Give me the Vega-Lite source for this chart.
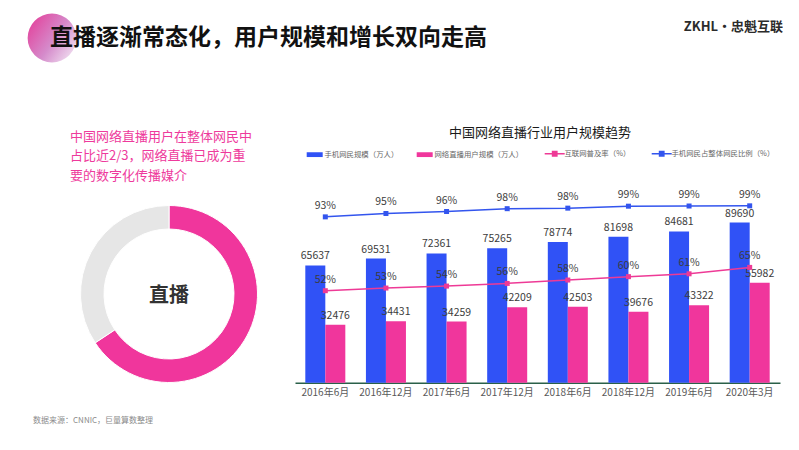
{
  "$schema": "https://vega.github.io/schema/vega-lite/v6.json",
  "background": "white",
  "padding": 0,
  "bounds": "flush",
  "columns": 3,
  "spacing": {"row": 106.7, "column": 0},
  "resolve": {"scale": {"color": "independent"}, "legend": {"color": "independent"}},
  "config": {"view": {"stroke": null}, "font": "Noto Sans CJK SC"},
  "datasets": {
    "trend": [
      {"period": "2016年6月", "series": "手机网民规模（万人）", "value": 65637},
      {"period": "2016年12月", "series": "手机网民规模（万人）", "value": 69531},
      {"period": "2017年6月", "series": "手机网民规模（万人）", "value": 72361},
      {"period": "2017年12月", "series": "手机网民规模（万人）", "value": 75265},
      {"period": "2018年6月", "series": "手机网民规模（万人）", "value": 78774},
      {"period": "2018年12月", "series": "手机网民规模（万人）", "value": 81698},
      {"period": "2019年6月", "series": "手机网民规模（万人）", "value": 84681},
      {"period": "2020年3月", "series": "手机网民规模（万人）", "value": 89690},
      {"period": "2016年6月", "series": "网络直播用户规模（万人）", "value": 32476},
      {"period": "2016年12月", "series": "网络直播用户规模（万人）", "value": 34431},
      {"period": "2017年6月", "series": "网络直播用户规模（万人）", "value": 34259},
      {"period": "2017年12月", "series": "网络直播用户规模（万人）", "value": 42209},
      {"period": "2018年6月", "series": "网络直播用户规模（万人）", "value": 42503},
      {"period": "2018年12月", "series": "网络直播用户规模（万人）", "value": 39676},
      {"period": "2019年6月", "series": "网络直播用户规模（万人）", "value": 43322},
      {"period": "2020年3月", "series": "网络直播用户规模（万人）", "value": 55982},
      {"period": "2016年6月", "series": "互联网普及率（%）", "value": 0.517},
      {"period": "2016年12月", "series": "互联网普及率（%）", "value": 0.532},
      {"period": "2017年6月", "series": "互联网普及率（%）", "value": 0.543},
      {"period": "2017年12月", "series": "互联网普及率（%）", "value": 0.558},
      {"period": "2018年6月", "series": "互联网普及率（%）", "value": 0.577},
      {"period": "2018年12月", "series": "互联网普及率（%）", "value": 0.596},
      {"period": "2019年6月", "series": "互联网普及率（%）", "value": 0.612},
      {"period": "2020年3月", "series": "互联网普及率（%）", "value": 0.648},
      {"period": "2016年6月", "series": "手机网民占整体网民比例（%）", "value": 0.932},
      {"period": "2016年12月", "series": "手机网民占整体网民比例（%）", "value": 0.951},
      {"period": "2017年6月", "series": "手机网民占整体网民比例（%）", "value": 0.962},
      {"period": "2017年12月", "series": "手机网民占整体网民比例（%）", "value": 0.978},
      {"period": "2018年6月", "series": "手机网民占整体网民比例（%）", "value": 0.981},
      {"period": "2018年12月", "series": "手机网民占整体网民比例（%）", "value": 0.992},
      {"period": "2019年6月", "series": "手机网民占整体网民比例（%）", "value": 0.993},
      {"period": "2020年3月", "series": "手机网民占整体网民比例（%）", "value": 0.994}
    ]
  },
  "concat": [
    {
      "width": 43,
      "height": 10,
      "data": {"values": []},
      "mark": "point",
      "encoding": {},
      "title": {
        "text": "数据来源：CNNIC，巨量算数整理",
        "orient": "bottom", "frame": "group", "anchor": "start",
        "offset": 407, "dx": 33,
        "fontSize": 8, "fontWeight": "normal", "color": "#8c8c8c"
      }
    },
    {
      "width": 18,
      "height": 76,
      "data": {"values": [{"k": 1}]},
      "mark": {
        "type": "point",
        "shape": "circle",
        "filled": true,
        "opacity": 1,
        "size": 2376,
        "color": {
          "gradient": "linear",
          "x1": 0, "y1": 0.25, "x2": 1, "y2": 0.95,
          "stops": [
            {"offset": 0, "color": "#e2479f"},
            {"offset": 0.5, "color": "#d58bcb"},
            {"offset": 1, "color": "#f5edf7"}
          ]
        }
      },
      "encoding": {}
    },
    {
      "width": 485,
      "height": 10,
      "data": {"values": []},
      "mark": "point",
      "encoding": {},
      "title": {
        "text": "ZKHL•忠魁互联",
        "orient": "bottom", "frame": "group", "anchor": "end",
        "offset": 10.5, "dx": 3,
        "fontSize": 13, "fontWeight": "bold", "color": "#2b2b2b"
      }
    },
    {
      "width": 43,
      "height": 200,
      "data": {"values": []},
      "mark": "point",
      "encoding": {},
      "title": {
        "text": "直播逐渐常态化，用户规模和增长双向走高",
        "orient": "top", "frame": "group", "anchor": "start",
        "offset": 133.2, "dx": 50,
        "fontSize": 23, "fontWeight": "bold", "color": "#111111"
      }
    },
    {
      "width": 252,
      "height": 222.6,
      "title": {
        "text": ["中国网络直播用户在整体网民中", "占比近2/3，网络直播已成为重", "要的数字化传播媒介"],
        "orient": "top", "frame": "group", "anchor": "start",
        "offset": 0, "dx": 27,
        "lineHeight": 19.5,
        "fontSize": 13, "fontWeight": "normal", "color": "#ee3a9c"
      },
      "layer": [
        {
          "data": {"values": [{"part": "直播", "share": 65.7}, {"part": "其他", "share": 34.3}]},
          "mark": {"type": "arc", "outerRadius": 88.5, "innerRadius": 65, "stroke": "#ffffff", "strokeWidth": 1},
          "encoding": {
            "theta": {"field": "share", "type": "quantitative"},
            "order": {"field": "share", "sort": "descending"},
            "color": {"field": "part", "type": "nominal", "legend": null,
              "scale": {"domain": ["直播", "其他"], "range": ["#f0369c", "#e6e6e6"]}}
          }
        },
        {
          "data": {"values": [{"label": "直播"}]},
          "mark": {"type": "text", "fontSize": 20, "fontWeight": "bold", "color": "#333333", "baseline": "middle", "dy": 2},
          "encoding": {"text": {"field": "label", "type": "nominal"}}
        }
      ]
    },
    {
      "width": 485,
      "height": 200,
      "data": {"name": "trend"},
      "title": {
        "text": "中国网络直播行业用户规模趋势",
        "orient": "top", "frame": "group", "anchor": "middle",
        "offset": 9.7, "dx": 2.5,
        "fontSize": 13, "fontWeight": "normal", "color": "#1a1a1a"
      },
      "resolve": {"scale": {"y": "independent"}},
      "layer": [
        {
          "transform": [{"filter": "indexof(['手机网民规模（万人）','网络直播用户规模（万人）'], datum.series) >= 0"}],
          "mark": {"type": "bar"},
          "encoding": {
            "x": {"field": "period", "type": "nominal", "sort": null,
              "scale": {"domain": ["2016年6月","2016年12月","2017年6月","2017年12月","2018年6月","2018年12月","2019年6月","2020年3月"], "paddingInner": 0.34, "paddingOuter": 0.17},
              "axis": {"title": null, "labelAngle": 0, "labelFontSize": 10, "labelColor": "#595959", "labelPadding": 5, "ticks": false, "domainColor": "#2a6049", "domainWidth": 1.5, "grid": false}},
            "xOffset": {"field": "series", "type": "nominal", "scale": {"domain": ["手机网民规模（万人）", "网络直播用户规模（万人）"]}},
            "y": {"field": "value", "type": "quantitative", "stack": null, "scale": {"domain": [0, 112000]}, "axis": null},
            "color": {"field": "series", "type": "nominal",
              "scale": {"domain": ["手机网民规模（万人）", "网络直播用户规模（万人）", "互联网普及率（%）", "手机网民占整体网民比例（%）"],
                        "range": ["#3052f6", "#f0369c", "#ee3a96", "#3355ee"]},
              "legend": {
                "title": null, "orient": "none", "legendX": 16, "legendY": -32.7,
                "direction": "horizontal", "padding": 0,
                "labelFontSize": 7.4, "labelColor": "#666666", "labelOffset": 6,
                "columnPadding": 17, "symbolSize": 256,
                "encode": {
                  "symbols": {
                    "update": {
                      "shape": {"signal": "indexof(['手机网民规模（万人）','网络直播用户规模（万人）'], datum.value) >= 0 ? 'M-1,-0.3H1V0.3H-1Z' : 'M-1.25,0H1.25M-0.27,-0.27H0.27V0.27H-0.27Z'"},
                      "fill": {"scale": "color", "field": "value"},
                      "stroke": {"scale": "color", "field": "value"},
                      "strokeWidth": {"signal": "indexof(['手机网民规模（万人）','网络直播用户规模（万人）'], datum.value) >= 0 ? 0 : 1.5"},
                      "opacity": {"value": 1}
                    }
                  }
                }
              }
            }
          }
        },
        {
          "transform": [{"filter": "indexof(['手机网民规模（万人）','网络直播用户规模（万人）'], datum.series) >= 0"}],
          "mark": {"type": "text", "fontSize": 10.5, "color": "#3c3c3c", "dy": -9},
          "encoding": {
            "x": {"field": "period", "type": "nominal", "sort": null},
            "xOffset": {"field": "series", "type": "nominal"},
            "y": {"field": "value", "type": "quantitative", "scale": {"domain": [0, 112000]}, "axis": null},
            "text": {"field": "value", "type": "quantitative", "format": "d"}
          }
        },
        {
          "transform": [{"filter": "indexof(['互联网普及率（%）','手机网民占整体网民比例（%）'], datum.series) >= 0"}],
          "mark": {"type": "line", "strokeWidth": 1.5, "point": {"filled": true, "shape": "square", "size": 25}},
          "encoding": {
            "x": {"field": "period", "type": "nominal", "sort": null},
            "y": {"field": "value", "type": "quantitative", "scale": {"domain": [0, 1.124]}, "axis": null},
            "color": {"field": "series", "type": "nominal"}
          }
        },
        {
          "transform": [{"filter": "indexof(['互联网普及率（%）','手机网民占整体网民比例（%）'], datum.series) >= 0"}],
          "mark": {"type": "text", "fontSize": 10.5, "color": "#3c3c3c", "dy": -11},
          "encoding": {
            "x": {"field": "period", "type": "nominal", "sort": null},
            "y": {"field": "value", "type": "quantitative", "scale": {"domain": [0, 1.124]}, "axis": null},
            "text": {"field": "value", "type": "quantitative", "format": ".0%"}
          }
        }
      ]
    }
  ]
}
